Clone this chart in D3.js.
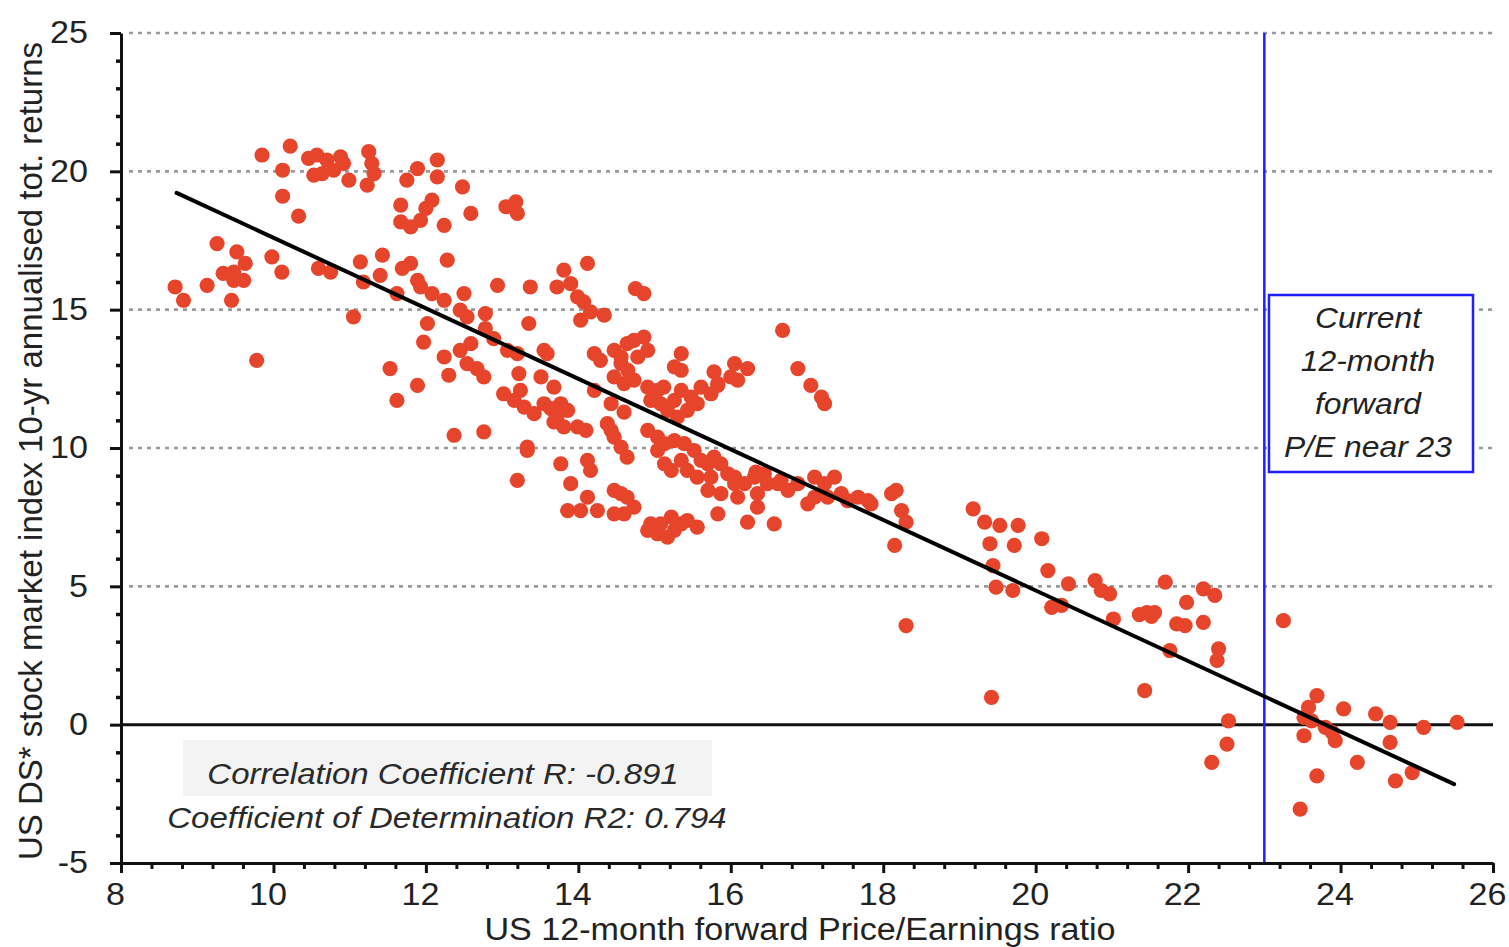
<!DOCTYPE html>
<html>
<head>
<meta charset="utf-8">
<script src="https://cdn.jsdelivr.net/npm/d3@7"></script>
<style>
  html, body { margin: 0; padding: 0; background: #fff; }
  svg { display: block; font-family: "Liberation Sans", Arial, Helvetica, sans-serif; }
</style>
</head>
<body>
<svg id="chart" width="1509" height="947"></svg>
<script>
// US 12-month forward P/E (x) vs subsequent 10-yr annualised total return, % (y)
const peRatio = [
  9.85,10.22,10.12,10.12,10.33,10.46,10.57,10.70,10.88,10.53,10.64,10.79,10.92,10.99,
  11.25,11.29,11.32,11.23,11.89,11.75,12.15,12.15,12.48,11.67,11.67,11.80,11.93,12.00,
  12.08,12.24,12.59,13.05,13.18,13.20,9.26,9.52,9.63,9.48,9.34,9.61,9.48,8.71,8.82,9.13,
  9.45,9.98,10.11,9.78,10.59,10.75,11.14,11.43,11.40,11.18,11.69,11.80,11.89,11.93,11.62,
  12.28,12.08,12.24,12.50,12.45,12.54,12.94,13.37,12.78,12.78,13.35,11.05,12.02,11.97,
  12.24,12.30,12.45,12.59,12.54,12.67,12.76,12.89,13.07,13.20,13.22,11.53,11.89,11.62,
  12.37,12.76,13.02,13.16,13.29,13.42,13.55,13.24,13.55,13.51,13.33,
  13.81,14.12,13.72,13.90,13.99,14.07,14.16,14.34,14.03,14.75,14.86,16.68,13.59,13.68,
  13.64,13.77,13.86,13.72,13.68,13.81,13.99,14.10,14.21,14.29,14.47,14.56,14.64,14.73,
  14.86,14.91,14.78,14.56,14.65,14.73,14.47,14.60,15.35,15.26,15.35,15.78,16.05,16.22,
  16.09,15.83,16.00,16.88,17.05,17.19,17.23,14.21,14.43,14.60,14.38,14.47,14.56,14.64,
  14.43,14.91,15.04,15.12,14.95,15.08,15.26,15.17,14.91,15.04,15.13,15.35,15.48,15.61,
  15.74,15.83,15.56,15.43,15.30,15.26,15.39,15.52,15.61,15.35,15.22,15.43,15.56,15.70,
  15.78,15.87,15.96,15.74,15.13,15.04,16.05,16.18,16.31,16.44,16.62,16.75,16.35,17.10,
  17.23,17.01,17.10,15.83,16.22,16.57,16.35,14.91,15.04,15.17,15.26,15.35,15.43,15.56,
  15.22,15.08,14.95,13.86,14.12,14.03,14.25,14.47,14.60,14.73,14.56,14.47,14.64,13.77,
  13.90,14.12,14.16,13.33,13.20,
  16.05,15.70,15.87,16.09,16.33,16.48,16.66,16.88,17.36,17.27,17.45,17.53,17.67,17.80,
  17.84,18.11,18.17,18.24,18.30,18.15,18.30,19.18,19.33,19.53,19.77,19.40,19.72,20.08,
  19.44,19.48,19.70,20.16,20.43,20.21,20.34,20.78,20.86,20.97,21.02,21.36,21.46,21.56,
  21.52,19.42,21.43,
  21.70,22.20,22.35,21.98,21.85,21.96,22.20,21.76,22.40,22.38,23.25,22.53,22.51,22.31,
  23.69,23.58,23.52,23.62,23.80,23.93,23.52,24.04,24.46,24.65,25.09,25.53,24.65,24.22,
  23.69,24.72,24.94,23.47,23.89
];
const totReturn = [
  20.59,20.91,20.04,19.10,18.38,20.47,20.59,20.41,20.52,19.86,19.92,20.04,20.29,19.68,
  20.71,20.29,19.92,19.50,20.10,19.68,20.41,19.80,19.44,18.78,18.17,17.99,18.23,18.66,
  18.96,18.05,18.48,18.72,18.90,18.48,17.39,17.09,16.67,16.36,16.31,16.06,16.06,15.82,15.34,15.88,
  15.34,16.91,16.36,13.17,16.49,16.36,16.73,16.97,16.24,16.00,16.49,16.67,16.06,15.82,15.58,
  16.79,15.58,15.34,15.58,14.98,14.74,15.88,15.82,14.86,14.32,14.50,14.74,14.50,13.83,
  13.29,12.63,13.53,13.77,13.05,12.87,12.57,13.95,13.53,13.41,12.69,12.87,12.26,11.72,
  10.46,10.58,11.96,11.72,11.48,11.24,11.60,12.08,13.53,12.57,10.03,
  16.43,16.67,15.82,15.94,15.46,15.28,14.92,14.80,14.62,15.76,15.58,14.25,13.41,12.20,
  11.42,11.60,11.36,11.12,10.94,10.76,10.76,10.64,13.41,13.17,13.53,13.29,13.77,13.89,
  14.01,13.53,13.29,13.05,12.81,12.45,12.57,12.33,13.41,12.93,12.81,12.75,13.05,12.87,
  12.45,12.26,12.57,12.87,12.26,11.84,11.60,12.08,11.60,11.30,10.88,10.39,10.03,9.67,
  10.64,12.20,12.08,12.20,11.72,11.60,11.72,11.36,10.64,10.39,10.16,12.08,11.84,12.20,
  11.96,12.33,11.60,11.36,11.12,10.27,10.16,9.91,9.55,9.55,9.19,9.19,8.95,9.43,
  9.67,9.43,9.07,8.95,9.43,9.91,8.95,8.71,8.95,9.07,8.71,8.47,8.35,8.95,
  8.71,7.98,8.22,7.62,7.32,7.26,7.86,7.02,6.90,6.78,7.02,7.26,7.38,7.14,
  7.50,7.26,7.26,7.74,8.22,7.74,7.74,7.62,7.62,7.86,8.35,8.47,8.22,9.43,
  8.71,9.55,9.19,9.91,8.83,
  8.71,8.47,8.35,8.22,9.13,8.71,8.83,8.71,8.95,8.22,8.35,8.10,8.22,8.10,
  7.98,8.35,8.47,7.74,7.32,6.48,3.58,7.80,7.32,7.20,7.20,6.54,6.48,6.72,
  5.75,4.97,4.85,5.57,5.09,4.24,4.31,5.21,4.85,4.73,3.82,3.98,4.05,4.05,
  3.91,0.99,1.23,
  5.15,4.91,4.67,4.42,3.64,3.58,3.70,2.68,2.74,2.32,3.76,0.14,-0.70,-1.36,
  1.05,0.63,0.26,0.14,-0.10,-0.58,-0.40,0.57,0.39,0.08,-0.10,0.08,-0.64,-1.36,
  -1.85,-2.03,-1.73,-3.05,-0.28
];

const xTicks = [8, 10, 12, 14, 16, 18, 20, 22, 24, 26];
const yTicks = [-5, 0, 5, 10, 15, 20, 25];
const gridLevels = [5, 10, 15, 20, 25];

// least-squares fit shown on the chart
const trendSlope = -1.275;
const trendIntercept = 30.35;
const trendFrom = 8.73;
const trendTo = 25.49;

const currentPE = 23;
const statLines = ["Correlation Coefficient R: -0.891", "Coefficient of Determination R2: 0.794"];
const noteLines = ["Current", "12-month", "forward", "P/E near 23"];
const xTitle = "US 12-month forward Price/Earnings ratio";
const yTitle = "US DS* stock market index 10-yr annualised tot. returns";

const svg = d3.select("#chart");
const x = d3.scaleLinear().domain([8, 26]).range([121, 1493]);
const y = d3.scaleLinear().domain([-5, 25]).range([863, 33]);

const DOT = "#e6452b";
const INK = "#222";
const plainNumber = d => String(d);

// widen glyphs slightly to get the broad lettering of the chart
function widen(sel, f) {
  sel.each(function () {
    const len = this.getComputedTextLength();
    d3.select(this).attr("textLength", len * f).attr("lengthAdjust", "spacingAndGlyphs");
  });
}

// pale panel behind the statistics text
svg.append("rect")
  .attr("x", 183).attr("y", 740).attr("width", 529).attr("height", 56)
  .attr("fill", "#f3f3f3");

// dotted grid
svg.append("g").selectAll("line").data(gridLevels).join("line")
  .attr("x1", x(8) + 8).attr("x2", x(26))
  .attr("y1", d => y(d)).attr("y2", d => y(d))
  .attr("stroke", "#9a9a9a").attr("stroke-width", 2.6)
  .attr("stroke-dasharray", "4,5");

// zero line
svg.append("line")
  .attr("x1", x(8)).attr("x2", x(26))
  .attr("y1", y(0)).attr("y2", y(0))
  .attr("stroke", "#111").attr("stroke-width", 3);

// current P/E marker
svg.append("line")
  .attr("x1", x(currentPE)).attr("x2", x(currentPE))
  .attr("y1", y(25)).attr("y2", y(-5))
  .attr("stroke", "#1f1fff").attr("stroke-width", 2.5);

// scatter points
const pts = peRatio.map((v, i) => ({ pe: v, r: totReturn[i] }));
svg.append("g").selectAll("circle").data(pts).join("circle")
  .attr("cx", d => x(d.pe)).attr("cy", d => y(d.r))
  .attr("r", 7.6).attr("fill", DOT);

// regression line
svg.append("line")
  .attr("x1", x(trendFrom)).attr("y1", y(trendIntercept + trendSlope * trendFrom))
  .attr("x2", x(trendTo)).attr("y2", y(trendIntercept + trendSlope * trendTo))
  .attr("stroke", "#000").attr("stroke-width", 4).attr("stroke-linecap", "round");

// annotation box
svg.append("rect")
  .attr("x", 1269).attr("y", 295).attr("width", 204).attr("height", 177)
  .attr("fill", "#fff").attr("stroke", "#1f1fff").attr("stroke-width", 2.5);
svg.append("g").selectAll("text").data(noteLines).join("text")
  .attr("x", 1368).attr("y", (d, i) => 328 + i * 43)
  .attr("text-anchor", "middle").attr("font-size", 30).attr("font-style", "italic")
  .attr("fill", INK).text(d => d)
  .call(widen, 1.06);

// statistics text
svg.append("g").selectAll("text").data(statLines).join("text")
  .attr("x", (d, i) => i === 0 ? 443 : 447).attr("y", (d, i) => 784 + i * 44)
  .attr("text-anchor", "middle").attr("font-size", 30).attr("font-style", "italic")
  .attr("fill", "#2a2a2a").text(d => d)
  .call(widen, 1.1);

// axes: major ticks with labels, minor ticks without
const xMinor = d3.range(8, 26.001, 0.4).filter(v => Math.abs(v / 2 - Math.round(v / 2)) > 1e-6);
const yMinor = d3.range(-5, 25.001, 1).filter(v => v % 5 !== 0);

const gx = svg.append("g").attr("transform", `translate(0,${y(-5)})`)
  .call(d3.axisBottom(x).tickValues(xTicks).tickSize(10).tickSizeOuter(0).tickPadding(10)
    .tickFormat(plainNumber));
gx.select(".domain").attr("stroke", "#111").attr("stroke-width", 3);
gx.selectAll(".tick line").attr("stroke", "#111").attr("stroke-width", 3);
gx.selectAll(".tick text").attr("font-size", 31).attr("fill", INK).attr("font-family", null)
  .attr("dx", -6)
  .call(widen, 1.1);

svg.append("g").attr("transform", `translate(0,${y(-5)})`)
  .call(d3.axisBottom(x).tickValues(xMinor).tickSize(6).tickSizeOuter(0).tickFormat(""))
  .call(g => g.select(".domain").remove())
  .selectAll(".tick line").attr("stroke", "#111").attr("stroke-width", 3);

const gy = svg.append("g").attr("transform", `translate(${x(8)},0)`)
  .call(d3.axisLeft(y).tickValues(yTicks).tickSize(11).tickSizeOuter(0).tickPadding(22)
    .tickFormat(plainNumber));
gy.select(".domain").attr("stroke", "#111").attr("stroke-width", 3);
gy.selectAll(".tick line").attr("stroke", "#111").attr("stroke-width", 3);
gy.selectAll(".tick text").attr("font-size", 31).attr("fill", INK).attr("font-family", null)
  .call(widen, 1.1);

svg.append("g").attr("transform", `translate(${x(8)},0)`)
  .call(d3.axisLeft(y).tickValues(yMinor).tickSize(5).tickSizeOuter(0).tickFormat(""))
  .call(g => g.select(".domain").remove())
  .selectAll(".tick line").attr("stroke", "#111").attr("stroke-width", 3.5);

// axis titles
svg.append("text")
  .attr("x", 800).attr("y", 940).attr("text-anchor", "middle")
  .attr("font-size", 31).attr("fill", INK).text(xTitle)
  .call(widen, 1.1);

svg.append("text")
  .attr("transform", "translate(42,451) rotate(-90)")
  .attr("text-anchor", "middle").attr("font-size", 33).attr("fill", INK)
  .text(yTitle);
</script>
</body>
</html>
